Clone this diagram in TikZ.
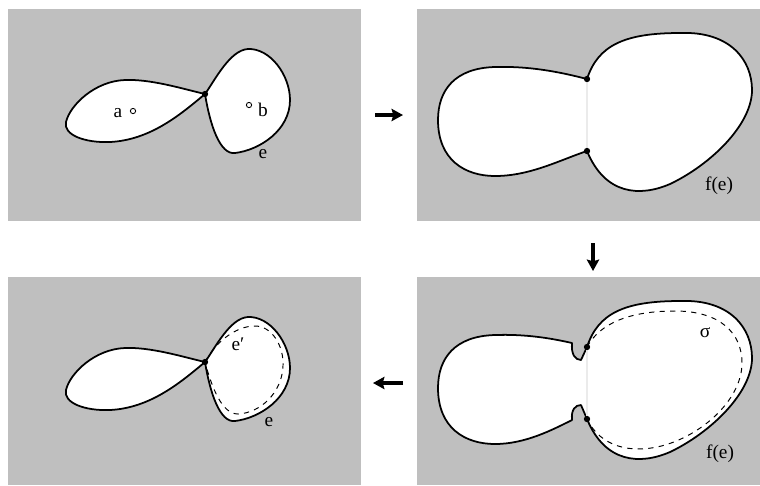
\documentclass[tikz,border=0pt]{standalone}
\usepackage{fontspec}
\setmainfont{Liberation Serif}
\usetikzlibrary{arrows.meta}

\begin{document}
\begin{tikzpicture}
[
x=0.02cm, y=-0.02cm,
panel/.style={fill=black!25},
lobe/.style={fill=white,draw=black,line width=1pt,line join=round},
seam/.style={draw=black!8,line width=0.6pt},
loop/.style={dashed,line width=0.55pt},
vertex/.style={circle,fill=black,inner sep=0pt,minimum size=3.6pt},
hole/.style={circle,draw=black,fill=white,line width=0.5pt,inner sep=0pt,minimum size=3pt},
lbl/.style={font=\fontsize{11}{13}\selectfont,inner sep=0pt},
flow/.style={-{Stealth[length=6.5pt,width=7pt,inset=1pt]},line width=2pt},
]

%Place the panels
\useasboundingbox (0,0) rectangle (760,485);
\fill[panel] (8,9) rectangle (361,221);
\fill[panel] (417,9) rectangle (760,221);
\fill[panel] (8,277) rectangle (361,485);
\fill[panel] (417,277) rectangle (760,485);

%Place the vertices
\coordinate (v1) at (205,94);
\coordinate (t2) at (587,79);
\coordinate (b2) at (587,151);
\coordinate (v3) at (205,362);
\coordinate (t4) at (587,347);
\coordinate (b4) at (587,419);

%Panel 1: the curve e
\draw[lobe] (v1) .. controls (180,88) and (150,79) .. (125,80) .. controls (95,81) and (70,105) .. (66,122) .. controls (63,135) and (85,143) .. (110,142) .. controls (150,140) and (180,115) .. (v1);
\draw[lobe] (v1) .. controls (215,80) and (230,50) .. (248,49) .. controls (270,48) and (290,75) .. (290,100) .. controls (290,130) and (260,150) .. (235,153) .. controls (220,155) and (210,125) .. (v1);
\node[hole] (ha) at (133,111) {};
\node[hole] (hb) at (249,105) {};
\node[lbl] (la) at (118,113) {a};
\node[lbl] (lb) at (263,110) {b};
\node[lbl] (le1) at (263,154) {e};

%Panel 2: the image f(e)
\draw[lobe] (t2) .. controls (560,72) and (530,66) .. (495,67) .. controls (455,68) and (438,90) .. (438,120) .. controls (438,160) and (465,176) .. (495,176) .. controls (530,176) and (560,160) .. (b2) .. controls (605,195) and (640,197) .. (670,184) .. controls (710,165) and (752,125) .. (752,90) .. controls (752,60) and (730,31) .. (680,33) .. controls (625,33) and (598,45) .. (t2);
\draw[seam] (t2) -- (b2);
\node[lbl] (lf2) at (719,186) {f(e)};

%Panel 3: the curves e and e'
\begin{scope}[shift={(0,268)}]
\draw[lobe] (v3) .. controls (180,88) and (150,79) .. (125,80) .. controls (95,81) and (70,105) .. (66,122) .. controls (63,135) and (85,143) .. (110,142) .. controls (150,140) and (180,115) .. (v3);
\draw[lobe] (v3) .. controls (215,80) and (230,50) .. (248,49) .. controls (270,48) and (290,75) .. (290,100) .. controls (290,130) and (260,150) .. (235,153) .. controls (220,155) and (210,125) .. (v3);
\draw[loop] (v3) .. controls (215,75) and (235,58) .. (255,58) .. controls (272,58) and (284,78) .. (283,98) .. controls (282,125) and (260,145) .. (238,146) .. controls (222,146) and (212,120) .. (v3);
\node[lbl] (lep) at (238,76) {e′};
\node[lbl] (le3) at (269,154) {e};
\end{scope}

%Panel 4: f(e) with the loop sigma
\begin{scope}[shift={(0,268)}]
\draw[lobe] (t4) -- (581,92) .. controls (575,92) and (571,86) .. (572,75) .. controls (550,70) and (525,66) .. (495,67) .. controls (455,68) and (438,90) .. (438,120) .. controls (438,160) and (465,176) .. (495,176) .. controls (525,176) and (552,162) .. (572,152) .. controls (571,142) and (575,137) .. (581,137) -- (b4) .. controls (605,195) and (640,197) .. (670,184) .. controls (710,165) and (752,125) .. (752,90) .. controls (752,60) and (730,31) .. (680,33) .. controls (625,33) and (598,45) .. (t4);
\draw[seam] (t4) -- (b4);
\draw[loop] (t4) .. controls (600,55) and (630,43) .. (675,43) .. controls (720,43) and (742,65) .. (742,95) .. controls (742,130) and (705,165) .. (665,177) .. controls (630,187) and (600,178) .. (b4);
\node[lbl] (ls) at (705,65) {σ};
\node[lbl] (lf4) at (720,186) {f(e)};
\end{scope}

%Place the vertex dots
\node[vertex] (dv1) at (v1) {};
\node[vertex] (dt2) at (t2) {};
\node[vertex] (db2) at (b2) {};
\node[vertex] (dv3) at (v3) {};
\node[vertex] (dt4) at (t4) {};
\node[vertex] (db4) at (b4) {};

%Draw the arrows between panels
\coordinate (r0) at (375,115);
\coordinate (r1) at (403,115);
\coordinate (d0) at (593,243);
\coordinate (d1) at (593,271);
\coordinate (l0) at (403,383);
\coordinate (l1) at (373,383);
\draw[flow] (r0) -- (r1);
\draw[flow] (d0) -- (d1);
\draw[flow] (l0) -- (l1);
\end{tikzpicture}
\end{document}
